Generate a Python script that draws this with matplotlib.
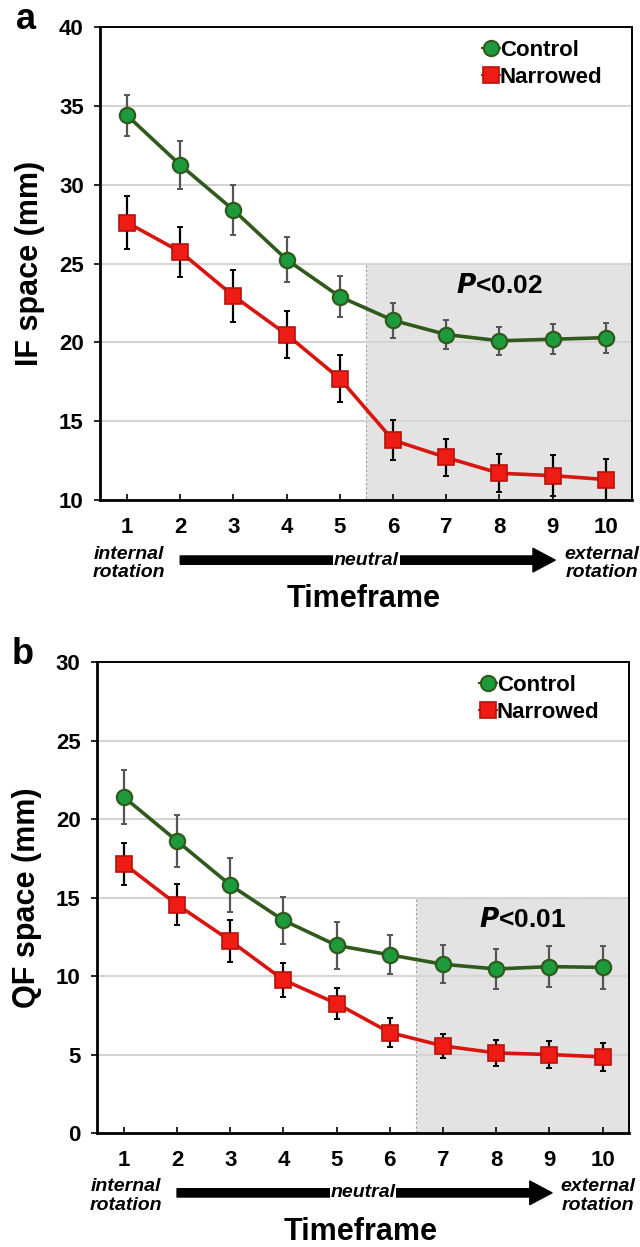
import matplotlib
matplotlib.use("Agg")
import matplotlib.pyplot as plt
from matplotlib.patches import Rectangle
from matplotlib.lines import Line2D

plt.rcParams['font.family'] = ['Liberation Sans', 'DejaVu Sans']
plt.rcParams['font.weight'] = 'bold'

# timeframe index
frames = [1, 2, 3, 4, 5, 6, 7, 8, 9, 10]

# panel a: IF space (mm)
if_control = [34.4, 31.25, 28.4, 25.25, 22.9, 21.4, 20.5, 20.1, 20.2, 20.3]
if_control_err = [1.3, 1.5, 1.6, 1.45, 1.3, 1.1, 0.95, 0.9, 0.95, 0.95]
if_narrowed = [27.6, 25.75, 22.95, 20.5, 17.7, 13.8, 12.7, 11.7, 11.55, 11.3]
if_narrowed_err = [1.7, 1.6, 1.65, 1.5, 1.5, 1.25, 1.2, 1.2, 1.3, 1.3]

# panel b: QF space (mm)
qf_control = [21.4, 18.6, 15.8, 13.55, 11.95, 11.35, 10.75, 10.45, 10.6, 10.55]
qf_control_err = [1.7, 1.65, 1.7, 1.5, 1.5, 1.25, 1.2, 1.25, 1.3, 1.35]
qf_narrowed = [17.15, 14.55, 12.25, 9.75, 8.25, 6.4, 5.55, 5.1, 5.0, 4.85]
qf_narrowed_err = [1.35, 1.3, 1.35, 1.1, 1.0, 0.9, 0.75, 0.8, 0.85, 0.9]

green_line = '#2f5a1c'
green_face = '#1c9a3c'
red_line = '#d8150f'
red_face = '#ee1c14'


def draw_panel(ax, control, control_err, narrowed, narrowed_err,
               ylim, yticks, shade_x, shade_top, ptext, ylabel, letter):
    ax.set_xlim(0.5, 10.5)
    ax.set_ylim(*ylim)
    ax.set_yticks(yticks)
    ax.set_xticks(frames)
    ax.set_axisbelow(True)
    ax.yaxis.grid(True, color='#d4d4d4', lw=1.5)

    # significant region
    rect = Rectangle((shade_x, ylim[0]), 10.5 - shade_x, shade_top - ylim[0],
                     facecolor='#e3e3e3', edgecolor='#9a9a9a', lw=0.8,
                     linestyle=(0, (2, 2)), zorder=0.2)
    ax.add_patch(rect)
    ax.text((shade_x + 10.5) / 2, shade_top - 1.4, ptext, ha='center', va='center',
            fontsize=19, fontweight='bold')

    ax.errorbar(frames, control, yerr=control_err, fmt='none', ecolor='#555555',
                elinewidth=1.6, capsize=2, capthick=1.4, zorder=2)
    ax.errorbar(frames, narrowed, yerr=narrowed_err, fmt='none', ecolor='black',
                elinewidth=1.6, capsize=2, capthick=1.4, zorder=2)
    ax.plot(frames, control, color=green_line, lw=2.6, marker='o', ms=11,
            mfc=green_face, mec=green_line, mew=1.6, zorder=3)
    ax.plot(frames, narrowed, color=red_line, lw=2.6, marker='s', ms=11,
            mfc=red_face, mec='#b8120c', mew=1.2, zorder=3)

    handles = [Line2D([], [], color=green_line, lw=1.5, marker='o', ms=11,
                      mfc=green_face, mec=green_line, mew=1.5),
               Line2D([], [], color=red_line, lw=1.5, marker='s', ms=11,
                      mfc=red_face, mec='#b8120c', mew=1.2)]
    ax.legend(handles, ['Control', 'Narrowed'], loc='upper left',
              bbox_to_anchor=(0.68, 1.015), frameon=False, handlelength=0.8,
              handletextpad=0.0, labelspacing=0.25, prop={'size': 16, 'weight': 'bold'})

    for s in ax.spines.values():
        s.set_color('black')
        s.set_linewidth(1.4)
    ax.spines['left'].set_linewidth(2)
    ax.spines['bottom'].set_linewidth(2)
    ax.tick_params(axis='y', direction='out', length=4, width=1.2, pad=8, labelsize=16)
    ax.tick_params(axis='x', direction='in', length=4, width=1.2, pad=12, labelsize=16)
    for lab in ax.get_xticklabels() + ax.get_yticklabels():
        lab.set_fontweight('bold')

    ax.set_ylabel(ylabel, fontsize=22, fontweight='bold', labelpad=10)

    # rotation arrow under the axis
    tr = ax.get_xaxis_transform()
    ax.annotate('', xy=(9.05, -0.127), xytext=(2.0, -0.127), xycoords=tr, textcoords=tr,
                arrowprops=dict(arrowstyle='simple,head_width=0.85,head_length=0.8,tail_width=0.3',
                                mutation_scale=20, color='black', shrinkA=0, shrinkB=0),
                annotation_clip=False)
    ax.text(5.5, -0.127, 'neutral', transform=tr, ha='center', va='center',
            fontsize=14, fontweight='bold', style='italic',
            bbox=dict(facecolor='white', edgecolor='none', pad=0.5))
    ax.text(1.03, -0.134, 'internal\nrotation', transform=tr, ha='center', va='center',
            fontsize=14, fontweight='bold', style='italic', linespacing=1.1)
    ax.text(9.92, -0.134, 'external\nrotation', transform=tr, ha='center', va='center',
            fontsize=14, fontweight='bold', style='italic', linespacing=1.1)
    ax.text(5.45, -0.21, 'Timeframe', transform=tr, ha='center', va='center',
            fontsize=22, fontweight='bold')

    ax.text(-0.14, 1.015, letter, transform=ax.transAxes, ha='center', va='center',
            fontsize=26, fontweight='bold')


fig = plt.figure(figsize=(6.4, 12.47), dpi=100)
ax1 = fig.add_axes([0.157, 0.599, 0.831, 0.3793])
ax2 = fig.add_axes([0.152, 0.0914, 0.831, 0.3777])

draw_panel(ax1, if_control, if_control_err, if_narrowed, if_narrowed_err,
           (10, 40), [10, 15, 20, 25, 30, 35, 40], 5.5, 25, '$\\mathbfit{P}$<0.02',
           'IF space (mm)', 'a')
draw_panel(ax2, qf_control, qf_control_err, qf_narrowed, qf_narrowed_err,
           (0, 30), [0, 5, 10, 15, 20, 25, 30], 6.5, 15, '$\\mathbfit{P}$<0.01',
           'QF space (mm)', 'b')

fig.savefig('out.png', dpi=100)
